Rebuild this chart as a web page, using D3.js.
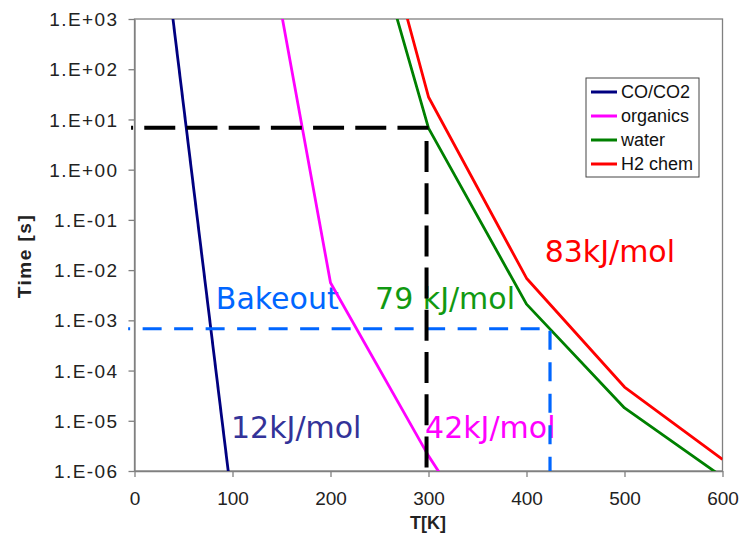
<!DOCTYPE html>
<html><head><meta charset="utf-8">
<script src="https://cdn.jsdelivr.net/npm/d3@7"></script>
<style>
body{margin:0;background:#fff;}
svg{display:block;}
</style></head>
<body>
<svg id="chart" width="739" height="543"></svg>
<script>
// ---------------- data ----------------
const xTicks = [0, 100, 200, 300, 400, 500, 600];
const yTicks = [1e-6, 1e-5, 1e-4, 1e-3, 1e-2, 1e-1, 1e0, 1e1, 1e2, 1e3];
const yTickLabels = ["1.E-06","1.E-05","1.E-04","1.E-03","1.E-02","1.E-01","1.E+00","1.E+01","1.E+02","1.E+03"];

const seriesNames = ["CO/CO2", "organics", "water", "H2 chem"];
const seriesColors = ["#000080", "#ff00ff", "#008000", "#ff0000"];

const coT = [30, 100];
const coTime = [3e4, 2e-7];
const orgT = [100, 200, 300, 400];
const orgTime = [2.9e8, 5.6e-3, 2.0e-6, 2e-9];
const waterT = [200, 300, 400, 500, 600];
const waterTime = [4.3e7, 6.7, 2.1e-3, 1.8e-5, 7.6e-7];
const h2T = [200, 300, 400, 500, 600];
const h2Time = [4.8e8, 28, 6.9e-3, 4.7e-5, 1.7e-6];

// guide lines (room temperature / bakeout)
const roomT = [-3.5, 298, 298];
const roomTime = [6.8, 6.8, 1e-6];
const bakeT = [-6.5, 424, 424];
const bakeTime = [6.8e-4, 6.8e-4, 1e-6];

const annotations = [
  {text: "83kJ/mol", T: 418.5, t: 1.47e-2, color: "#ff0000"},
  {text: "Bakeout", T: 83, t: 1.7e-3, color: "#0066ff"},
  {text: "79 kJ/mol", T: 245.5, t: 1.7e-3, color: "#119911"},
  {text: "12kJ/mol", T: 98.5, t: 4.6e-6, color: "#333399"},
  {text: "42kJ/mol", T: 296.5, t: 4.6e-6, color: "#ff00ff"}
];

// ---------------- chart ----------------
const svg = d3.select("#chart");
const L = 134.5, R = 722.5, T0 = 19, B = 471;
const x = d3.scaleLinear().domain([0, 600]).range([L, R]);
const y = d3.scaleLog().domain([1e-6, 1e3]).range([B, T0]);
const axisColor = "#808080";
const arial = "Arial, 'Liberation Sans', sans-serif";

svg.append("defs").append("clipPath").attr("id", "plotclip")
  .append("rect").attr("x", L).attr("y", T0).attr("width", R - L).attr("height", B - T0);

// frame
svg.append("rect").attr("x", L).attr("y", T0).attr("width", R - L).attr("height", B - T0)
  .attr("fill", "none").attr("stroke", axisColor).attr("stroke-width", 1.3);

// axes
const xAxis = d3.axisBottom(x).tickValues(xTicks).tickSize(6).tickSizeOuter(0).tickFormat(d3.format("d"));
const gx = svg.append("g").attr("transform", `translate(0,${B})`).call(xAxis);
gx.select(".domain").attr("stroke", axisColor).attr("stroke-width", 1.3);
gx.selectAll(".tick line").attr("stroke", axisColor).attr("stroke-width", 1.3);
gx.selectAll(".tick text").attr("font-family", arial)
  .attr("font-size", 19).attr("fill", "#222").attr("dy", null).attr("y", 34);

const yAxis = d3.axisLeft(y).tickValues(yTicks).tickSize(6).tickSizeOuter(0)
  .tickFormat((d, i) => yTickLabels[i]);
const gy = svg.append("g").attr("transform", `translate(${L},0)`).call(yAxis);
gy.select(".domain").attr("stroke", axisColor).attr("stroke-width", 1.3);
gy.selectAll(".tick line").attr("stroke", axisColor).attr("stroke-width", 1.3);
gy.selectAll(".tick text").attr("font-family", arial)
  .attr("font-size", 19).attr("letter-spacing", "1.4px").attr("fill", "#222")
  .attr("x", -16).attr("dy", "0.35em");

// axis titles
svg.append("text").attr("x", 428).attr("y", 529).attr("text-anchor", "middle")
  .attr("font-family", arial).attr("font-weight", "bold")
  .attr("font-size", 18).attr("fill", "#222").text("T[K]");
svg.append("text").attr("transform", "translate(31,256) rotate(-90)").attr("text-anchor", "middle")
  .attr("font-family", arial).attr("font-weight", "bold").attr("letter-spacing", "1.5px")
  .attr("font-size", 19).attr("fill", "#222").text("Time [s]");

// annotations
svg.append("g").selectAll("text").data(annotations).join("text")
  .attr("x", d => x(d.T)).attr("y", d => y(d.t))
  .attr("font-family", "'DejaVu Sans', Verdana, sans-serif").attr("font-size", 30)
  .attr("fill", d => d.color).text(d => d.text);

// curves
const line = d3.line().x(d => x(d[0])).y(d => y(d[1]));
const series = [
  d3.zip(coT, coTime), d3.zip(orgT, orgTime), d3.zip(waterT, waterTime), d3.zip(h2T, h2Time)
];
svg.append("g").attr("clip-path", "url(#plotclip)").selectAll("path").data(series).join("path")
  .attr("d", line).attr("fill", "none")
  .attr("stroke", (d, i) => seriesColors[i]).attr("stroke-width", 2.8)
  .attr("stroke-linejoin", "round");

// guides
svg.append("path").datum(d3.zip(bakeT, bakeTime)).attr("d", line).attr("fill", "none")
  .attr("stroke", "#0066ff").attr("stroke-width", 3.2)
  .attr("stroke-dasharray", "19,12.5").attr("stroke-dashoffset", 17);
svg.append("path").datum(d3.zip(roomT, roomTime)).attr("d", line).attr("fill", "none")
  .attr("stroke", "#000").attr("stroke-width", 4)
  .attr("stroke-dasharray", "31,11.2").attr("stroke-dashoffset", 29);

// legend
const lg = svg.append("g");
lg.append("rect").attr("x", 586).attr("y", 78).attr("width", 113).attr("height", 99)
  .attr("fill", "#fff").attr("stroke", "#444").attr("stroke-width", 1);
seriesNames.forEach((n, i) => {
  const cy = 92 + i * 24;
  lg.append("line").attr("x1", 591).attr("x2", 617).attr("y1", cy).attr("y2", cy)
    .attr("stroke", seriesColors[i]).attr("stroke-width", 3);
  lg.append("text").attr("x", 621).attr("y", cy).attr("dy", "0.36em")
    .attr("font-family", arial).attr("font-size", 18)
    .attr("fill", "#111").text(n);
});
</script>
</body></html>
